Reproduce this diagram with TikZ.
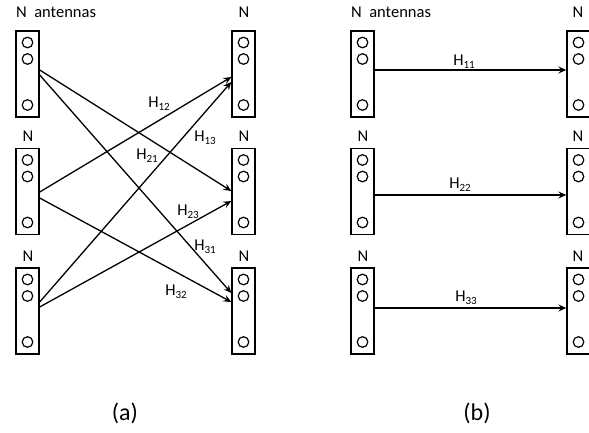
\documentclass[tikz,border=0pt]{standalone}
\usepackage{fontspec}
\setmainfont{Carlito}
\usetikzlibrary{arrows.meta}
\tikzset{
  antbox/.style={draw, line width=1.4pt, minimum width=23pt, minimum height=86pt, inner sep=0pt},
  antdot/.style={line width=1.2pt},
  link/.style={line width=1.3pt, -{Stealth[length=8pt,width=7pt,inset=3pt]}},
  lbl/.style={font=\fontsize{16.5}{19}\selectfont, inner sep=0pt},
  hlbl/.style={font=\fontsize{16.5}{19}\selectfont, inner sep=0pt},
  panelcap/.style={font=\fontsize{24}{28}\selectfont, inner sep=0pt}
}
\newcommand{\hsub}[1]{H\raisebox{-0.35ex}{\fontsize{11}{13}\selectfont #1}}
\begin{document}
\begin{tikzpicture}[x=1pt,y=-1pt]
\useasboundingbox (0,0) rectangle (589,433);

% antenna arrays: name / centre x / centre y
\foreach \n/\cx/\cy in {t1/27.5/74, t2/27.5/191.5, t3/27.5/311,
                        r1/243.5/74, r2/243.5/191.5, r3/243.5/311,
                        u1/362.5/74, u2/362.5/191.5, u3/362.5/311,
                        v1/578.5/74, v2/578.5/191.5, v3/578.5/311} {
  \node[antbox] (\n) at (\cx,\cy) {};
  \foreach \dy in {-31.5,-15,31}
    \draw[antdot] (\cx,\cy+\dy) circle (5.3pt);
}

% array size labels
\node[lbl, anchor=west] (na1) at (16,12) {N\ \ antennas};
\node[lbl] (nr1) at (244,12) {N};
\node[lbl] (nt2) at (28,136) {N};
\node[lbl] (nr2) at (244,136) {N};
\node[lbl] (nt3) at (28,256) {N};
\node[lbl] (nr3) at (244,256) {N};
\node[lbl, anchor=west] (na2) at (351,12) {N\ \ antennas};
\node[lbl] (nv1) at (578,12) {N};
\node[lbl] (nu2) at (363,136) {N};
\node[lbl] (nv2) at (578,136) {N};
\node[lbl] (nu3) at (363,256) {N};
\node[lbl] (nv3) at (578,256) {N};

% (a) full cross-coupled channel
\draw[link] ([yshift=4pt]t1.east)    -- ([yshift=0.5pt]r2.west);
\draw[link] ([yshift=-1pt]t1.east)   -- ([yshift=18pt]r3.west);
\draw[link] ([yshift=-0.5pt]t2.east) -- ([yshift=-3pt]r1.west);
\draw[link] ([yshift=-6.5pt]t2.east) -- ([yshift=9pt]r3.west);
\draw[link] ([yshift=9pt]t3.east)    -- ([yshift=-8pt]r1.west);
\draw[link] ([yshift=4pt]t3.east)    -- ([yshift=-9.5pt]r2.west);

\node[hlbl] (h12) at (159,104) {\hsub{12}};
\node[hlbl] (h13) at (205,138) {\hsub{13}};
\node[hlbl] (h21) at (147,156) {\hsub{21}};
\node[hlbl] (h23) at (188,212) {\hsub{23}};
\node[hlbl] (h31) at (205,247) {\hsub{31}};
\node[hlbl] (h32) at (176,292) {\hsub{32}};

% (b) decoupled channel
\draw[link] ([yshift=4pt]u1.east)    -- ([yshift=4pt]v1.west);
\draw[link] ([yshift=-3.5pt]u2.east) -- ([yshift=-3.5pt]v2.west);
\draw[link] ([yshift=3pt]u3.east)    -- ([yshift=3pt]v3.west);

\node[hlbl] (h11) at (464,62) {\hsub{11}};
\node[hlbl] (h22) at (460,185) {\hsub{22}};
\node[hlbl] (h33) at (466,298) {\hsub{33}};

% panel captions
\node[panelcap] (capa) at (125,413) {(a)};
\node[panelcap] (capb) at (477,413) {(b)};
\end{tikzpicture}
\end{document}
